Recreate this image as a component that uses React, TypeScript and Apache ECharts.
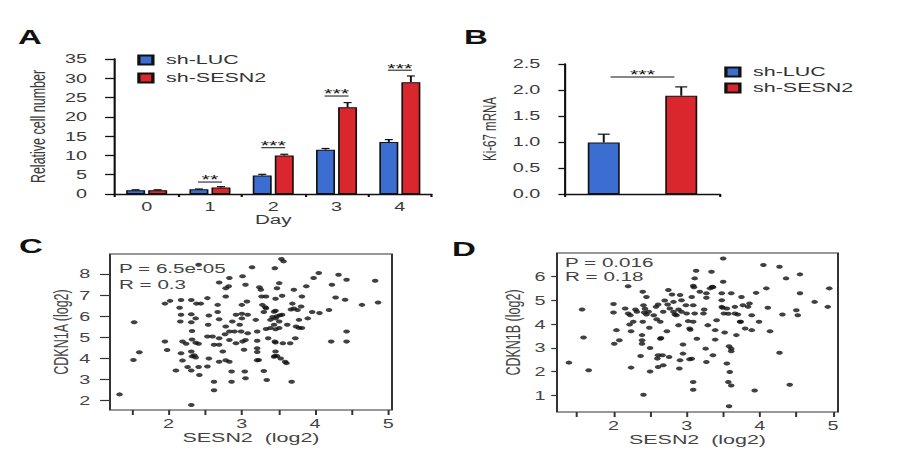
import React, { useEffect, useRef } from 'react';
import * as echarts from 'echarts';

// The reference figure is stretched horizontally; we draw in a narrower
// logical canvas and stretch it back with a CSS scaleX.
const S = 1.65;
const W = 906 / S;
const X = (px: number) => px / S;
const FONT = 'Liberation Sans, Arial, Helvetica, sans-serif';

// ---------- Panel A : relative cell number ----------
const days = ['0', '1', '2', '3', '4'];
const lucMean = [1.0, 1.2, 4.8, 11.5, 13.5];
const lucErr = [0.1, 0.1, 0.3, 0.3, 0.6];
const sesnMean = [1.0, 1.7, 10.0, 22.5, 29.0];
const sesnErr = [0.1, 0.2, 0.3, 1.2, 1.6];
const sigDaysA = [1, 2, 3, 4];
const sigLabelsA = ['**', '***', '***', '***'];
const sigLineA = [3.1, 12.0, 25.4, 32.1];

// ---------- Panel B : Ki-67 mRNA ----------
const groupsB = ['sh-LUC', 'sh-SESN2'];
const kiMean = [0.99, 1.89];
const kiErr = [0.16, 0.17];
const sigLineB = 2.25;
const sigLabelB = '***';

// ---------- Panel C : CDKN1A vs SESN2 ----------
const cdkn1aPoints: number[][] = [
  [1.33, 2.30], [1.52, 3.93], [1.53, 5.72], [1.60, 4.30], [1.95, 6.60], [2.02, 6.73], [1.95, 4.80], [1.98, 4.40],
  [2.10, 3.43], [2.17, 6.77], [2.15, 6.40], [2.17, 6.07], [2.16, 5.75], [2.19, 4.80], [2.17, 4.25], [2.19, 3.90],
  [2.31, 6.77], [2.38, 6.60], [2.44, 6.60], [2.31, 6.10], [2.37, 5.90], [2.31, 5.72], [2.32, 5.30], [2.32, 4.90],
  [2.37, 4.75], [2.41, 4.70], [2.31, 4.33], [2.32, 4.10], [2.37, 4.05], [2.26, 3.60], [2.31, 3.43], [2.41, 3.60],
  [2.42, 3.22], [2.31, 1.80], [2.41, 8.44], [2.53, 6.86], [2.55, 6.04], [2.54, 5.60], [2.53, 5.04], [2.55, 4.00],
  [2.53, 3.62], [2.60, 5.04], [2.62, 4.65], [2.67, 6.54], [2.67, 6.20], [2.69, 7.60], [2.69, 5.86], [2.69, 4.96],
  [2.69, 4.65], [2.69, 3.85], [2.62, 2.90], [2.62, 2.50], [2.74, 4.33], [2.78, 5.52], [2.78, 7.33], [2.82, 7.42],
  [2.83, 7.81], [2.78, 6.94], [2.77, 5.15], [2.83, 5.28], [2.83, 4.88], [2.83, 3.85], [2.86, 3.38], [2.86, 2.90],
  [2.87, 5.75], [2.90, 5.28], [2.92, 6.07], [2.92, 4.72], [2.97, 5.60], [2.99, 5.28], [3.00, 5.90], [3.00, 6.54],
  [3.00, 6.12], [3.01, 7.90], [3.05, 7.49], [3.03, 4.41], [3.01, 4.80], [3.05, 4.88], [3.04, 3.38], [3.05, 3.06],
  [3.07, 6.70], [3.08, 6.07], [3.08, 5.20], [3.14, 8.32], [3.19, 5.83], [3.21, 5.28], [3.21, 4.84], [3.21, 4.49],
  [3.23, 3.93], [3.24, 7.37], [3.26, 7.26], [3.27, 6.94], [3.28, 6.54], [3.30, 6.20], [3.30, 3.41], [3.33, 6.94],
  [3.33, 6.38], [3.34, 2.98], [3.33, 5.40], [3.36, 4.96], [3.39, 5.83], [3.39, 5.44], [3.44, 5.60], [3.45, 8.28],
  [3.46, 6.83], [3.46, 6.26], [3.46, 5.90], [3.45, 4.80], [3.46, 4.33], [3.45, 4.12], [3.48, 7.33], [3.51, 7.57],
  [3.51, 5.75], [3.51, 5.44], [3.54, 8.71], [3.57, 8.60], [3.55, 6.97], [3.55, 6.07], [3.56, 4.72], [3.59, 3.85],
  [3.61, 3.78], [3.53, 4.00], [3.62, 5.60], [3.66, 4.72], [3.68, 2.90], [3.69, 6.60], [3.71, 7.26], [3.73, 4.96],
  [3.74, 5.52], [3.76, 6.30], [3.78, 5.83], [3.81, 6.46], [3.82, 6.94], [3.82, 5.44], [3.88, 7.42], [3.90, 5.90],
  [3.98, 7.81], [3.96, 6.20], [4.05, 8.05], [4.06, 6.15], [4.19, 6.30], [4.22, 4.80], [4.23, 7.49], [4.28, 6.89],
  [4.32, 7.97], [4.41, 6.78], [4.43, 7.73], [4.43, 5.28], [4.43, 4.80], [4.64, 6.54], [4.82, 7.68], [4.86, 6.65],
  [2.24, 4.70], [2.35, 4.15], [2.78, 3.92], [3.32, 6.43], [3.42, 5.97], [3.48, 6.00], [3.46, 5.39], [3.46, 4.76],
  [3.48, 4.12], [3.44, 4.08], [3.21, 4.31], [3.21, 3.92], [3.71, 6.37], [3.67, 6.32], [3.78, 5.45], [3.52, 6.05],
  [3.44, 6.21],
];
const statsC = ['P = 6.5e-05', 'R = 0.3'];

// ---------- Panel D : CDKN1B vs SESN2 ----------
const cdkn1bPoints: number[][] = [
  [1.39, 2.38], [1.57, 4.62], [1.59, 3.44], [1.66, 2.06], [2.00, 4.85], [2.00, 4.49], [2.04, 3.75], [2.01, 3.18],
  [2.08, 3.32], [2.16, 4.66], [2.20, 5.60], [2.20, 4.45], [2.23, 4.38], [2.22, 3.99], [2.24, 3.70], [2.24, 2.17],
  [2.27, 4.10], [2.32, 4.52], [2.37, 2.66], [2.39, 3.54], [2.39, 3.32], [2.39, 3.18], [2.40, 5.37], [2.41, 4.80],
  [2.42, 4.49], [2.45, 4.41], [2.45, 5.15], [2.49, 3.85], [2.50, 3.00], [2.50, 2.01], [2.41, 1.03], [2.55, 4.38],
  [2.58, 4.73], [2.59, 4.21], [2.60, 2.55], [2.61, 2.69], [2.61, 2.20], [2.64, 3.39], [2.64, 4.10], [2.68, 4.52],
  [2.68, 2.27], [2.73, 3.70], [2.74, 4.83], [2.75, 5.44], [2.76, 2.62], [2.77, 4.66], [2.82, 4.94], [2.82, 4.52],
  [2.86, 4.38], [2.89, 3.96], [2.90, 2.13], [2.91, 2.48], [2.91, 5.23], [2.93, 5.01], [2.93, 4.52], [2.95, 3.14],
  [2.95, 2.76], [2.99, 4.80], [3.00, 4.45], [3.04, 2.52], [3.04, 3.82], [3.07, 5.15], [3.09, 5.62], [3.09, 4.80],
  [3.09, 4.10], [3.09, 1.56], [3.09, 1.24], [3.11, 5.93], [3.13, 6.25], [3.11, 4.45], [3.14, 3.39], [3.18, 5.37],
  [3.23, 4.45], [3.26, 2.97], [3.27, 2.41], [3.27, 5.11], [3.29, 3.96], [3.32, 5.51], [3.34, 6.21], [3.35, 5.58],
  [3.36, 2.69], [3.39, 3.75], [3.39, 3.35], [3.41, 4.17], [3.48, 5.30], [3.48, 5.01], [3.48, 4.73], [3.50, 6.77],
  [3.50, 5.79], [3.51, 4.45], [3.52, 3.65], [3.55, 4.66], [3.55, 2.34], [3.57, 1.56], [3.59, 1.99], [3.61, 2.97],
  [3.61, 2.86], [3.61, 5.30], [3.61, 1.42], [3.58, 0.54], [3.66, 4.73], [3.66, 4.45], [3.68, 3.54], [3.73, 4.10],
  [3.75, 5.15], [3.77, 4.80], [3.80, 3.82], [3.84, 4.73], [3.86, 4.87], [3.89, 4.38], [3.89, 3.75], [3.93, 1.21],
  [3.95, 5.32], [3.99, 4.10], [4.05, 6.49], [4.09, 5.51], [4.11, 4.69], [4.14, 3.70], [4.27, 6.42], [4.27, 2.80],
  [4.31, 4.41], [4.36, 5.93], [4.41, 1.45], [4.50, 4.59], [4.52, 4.38], [4.55, 6.10], [4.55, 5.30], [4.75, 4.94],
  [4.93, 4.73], [4.95, 5.51], [2.30, 4.62], [2.40, 4.10], [2.43, 4.65], [2.48, 4.52], [2.61, 4.83], [2.65, 3.42],
  [2.67, 2.69], [2.70, 5.00], [2.80, 5.25], [2.84, 4.41], [2.89, 4.62], [3.02, 4.13], [3.05, 3.77], [3.07, 2.54],
  [3.10, 5.56], [3.36, 5.56], [3.27, 5.30], [3.49, 4.69], [3.57, 4.44], [3.70, 4.41], [3.74, 4.10], [3.24, 4.62],
  [3.58, 3.07],
];
const statsD = ['P = 0.016', 'R = 0.18'];

const scatterXTicks = [1.5, 2, 2.5, 3, 3.5, 4, 4.5, 5];
const scatterXLabels = [2, 3, 4, 5];
const cYTicks = [2, 3, 4, 5, 6, 7, 8];
const dYTicks = [1, 2, 3, 4, 5, 6];

const BLUE = '#3c6dd0';
const RED = '#d9272d';
const INK = '#111';

function errRender(offset: number, capHalf: number) {
  return (params: any, api: any) => {
    const c = api.value(0);
    const m = api.value(1);
    const e = api.value(2);
    const p0 = api.coord([c, m]);
    const p1 = api.coord([c, m + e]);
    const x = p0[0] + offset;
    return {
      type: 'group',
      children: [
        { type: 'line', shape: { x1: x, y1: p0[1], x2: x, y2: p1[1] }, style: { stroke: INK, lineWidth: 1.2 } },
        { type: 'line', shape: { x1: x - capHalf, y1: p1[1], x2: x + capHalf, y2: p1[1] }, style: { stroke: INK, lineWidth: 1.2 } },
      ],
    };
  };
}

function sigRenderA(params: any, api: any) {
  const p = api.coord([api.value(0), api.value(1)]);
  const hw = X(12);
  return {
    type: 'group',
    children: [
      { type: 'line', shape: { x1: p[0] - hw, y1: p[1], x2: p[0] + hw, y2: p[1] }, style: { stroke: INK, lineWidth: 1 } },
      {
        type: 'text', x: p[0], y: p[1] - 2,
        style: { text: sigLabelsA[params.dataIndex], fill: INK, fontSize: 13, fontFamily: FONT, align: 'center', verticalAlign: 'middle' },
      },
    ],
  };
}

function sigRenderB(params: any, api: any) {
  const p0 = api.coord([0, api.value(1)]);
  const p1 = api.coord([1, api.value(1)]);
  const mid = (p0[0] + p1[0]) / 2;
  const hw = X(32);
  return {
    type: 'group',
    children: [
      { type: 'line', shape: { x1: mid - hw, y1: p0[1], x2: mid + hw, y2: p0[1] }, style: { stroke: INK, lineWidth: 1 } },
      {
        type: 'text', x: mid, y: p0[1] - 2,
        style: { text: sigLabelB, fill: INK, fontSize: 13, fontFamily: FONT, align: 'center', verticalAlign: 'middle' },
      },
    ],
  };
}

const axisText = { fontFamily: FONT, fontSize: 12, color: '#3a3a3a' };
const scatText = { fontFamily: FONT, fontSize: 12, color: '#444' };

const barWidthA = X(19);
const offA = (barWidthA * 1.16) / 2;

const option: any = {
  animation: false,
  backgroundColor: '#fff',
  textStyle: { fontFamily: FONT },
  grid: [
    { left: X(115), top: 59, width: X(316.5), height: 135, containLabel: false },
    { left: X(565), top: 64, width: X(155), height: 130, containLabel: false },
    { left: X(110), top: 254, width: X(282), height: 156, containLabel: false, show: true, borderColor: '#333', borderWidth: 1.2, backgroundColor: 'transparent' },
    { left: X(557), top: 253, width: X(281), height: 159, containLabel: false, show: true, borderColor: '#333', borderWidth: 1.2, backgroundColor: 'transparent' },
  ],
  legend: [
    {
      data: ['sh-LUC', 'sh-SESN2'], orient: 'vertical', left: X(129), top: 48,
      icon: 'rect', itemWidth: X(14), itemHeight: 9, itemGap: 4,
      textStyle: { fontFamily: FONT, fontSize: 13, color: '#333', lineHeight: 14, padding: [0, 0, 0, 3] },
    },
    {
      data: ['sh-LUC', 'sh-SESN2'], orient: 'vertical', left: X(716), top: 60,
      icon: 'rect', itemWidth: X(14), itemHeight: 9, itemGap: 2,
      textStyle: { fontFamily: FONT, fontSize: 13, color: '#333', lineHeight: 14, padding: [0, 0, 0, 3] },
    },
  ],
  xAxis: [
    {
      type: 'category', gridIndex: 0, data: days,
      axisLine: { lineStyle: { color: INK, width: 1.3 } },
      axisTick: { show: true, length: 3, lineStyle: { color: INK, width: 1.3 } },
      axisLabel: { ...axisText, margin: 7 },
      name: 'Day', nameLocation: 'middle', nameGap: 18,
      nameTextStyle: { ...axisText, fontSize: 12.5 },
    },
    {
      type: 'category', gridIndex: 1, data: groupsB,
      axisLine: { lineStyle: { color: INK, width: 1.3 } },
      axisTick: { show: true, length: 3, lineStyle: { color: INK, width: 1.3 } },
      axisLabel: { show: false },
    },
    {
      type: 'value', gridIndex: 2, min: 1.2, max: 5.05,
      axisLine: { show: false }, splitLine: { show: false },
      axisTick: { show: true, length: 5, customValues: scatterXTicks, lineStyle: { color: '#333', width: 1.2 } },
      axisLabel: { ...scatText, margin: 8, customValues: scatterXLabels },
      name: 'SESN2  (log2)', nameLocation: 'middle', nameGap: 21,
      nameTextStyle: { ...scatText, fontSize: 13 },
    },
    {
      type: 'value', gridIndex: 3, min: 1.227, max: 5.07,
      axisLine: { show: false }, splitLine: { show: false },
      axisTick: { show: true, length: 5, customValues: scatterXTicks, lineStyle: { color: '#333', width: 1.2 } },
      axisLabel: { ...scatText, margin: 8, customValues: scatterXLabels },
      name: 'SESN2  (log2)', nameLocation: 'middle', nameGap: 20,
      nameTextStyle: { ...scatText, fontSize: 13 },
    },
  ],
  yAxis: [
    {
      type: 'value', gridIndex: 0, min: 0, max: 35, interval: 5,
      axisLine: { show: true, lineStyle: { color: INK, width: 1.3 } },
      axisTick: { show: true, length: 6, lineStyle: { color: INK, width: 1.3 } },
      axisLabel: { ...axisText, margin: 17 },
      splitLine: { show: false },
      name: 'Relative cell number', nameLocation: 'middle', nameGap: 40,
      nameTextStyle: { ...axisText, fontSize: 12.5 },
    },
    {
      type: 'value', gridIndex: 1, min: 0, max: 2.5, interval: 0.5,
      axisLine: { show: true, lineStyle: { color: INK, width: 1.3 } },
      axisTick: { show: true, length: 4, lineStyle: { color: INK, width: 1.3 } },
      axisLabel: { ...axisText, margin: 15, formatter: (v: number) => v.toFixed(1) },
      splitLine: { show: false },
      name: 'Ki-67 mRNA', nameLocation: 'middle', nameGap: 40,
      nameTextStyle: { ...axisText, fontSize: 11.5 },
    },
    {
      type: 'value', gridIndex: 2, min: 1.56, max: 8.95,
      axisLine: { show: false }, splitLine: { show: false },
      axisTick: { show: true, length: 6, customValues: cYTicks, lineStyle: { color: '#333', width: 1.2 } },
      axisLabel: { ...scatText, margin: 12, customValues: cYTicks },
      name: 'CDKN1A (log2)', nameLocation: 'middle', nameGap: 23,
      nameTextStyle: { ...scatText, fontSize: 12.5 },
    },
    {
      type: 'value', gridIndex: 3, min: 0.3, max: 7.0,
      axisLine: { show: false }, splitLine: { show: false },
      axisTick: { show: true, length: 3.5, customValues: dYTicks, lineStyle: { color: '#333', width: 1.2 } },
      axisLabel: { ...scatText, margin: 7, customValues: dYTicks },
      name: 'CDKN1B (log2)', nameLocation: 'middle', nameGap: 20,
      nameTextStyle: { ...scatText, fontSize: 12.5 },
    },
  ],
  series: [
    {
      name: 'sh-LUC', type: 'bar', xAxisIndex: 0, yAxisIndex: 0, data: lucMean,
      barWidth: barWidthA, barGap: '16%',
      itemStyle: { color: BLUE, borderColor: INK, borderWidth: 1 },
    },
    {
      name: 'sh-SESN2', type: 'bar', xAxisIndex: 0, yAxisIndex: 0, data: sesnMean,
      barWidth: barWidthA, barGap: '16%',
      itemStyle: { color: RED, borderColor: INK, borderWidth: 1 },
    },
    {
      type: 'custom', xAxisIndex: 0, yAxisIndex: 0, z: 5,
      data: lucMean.map((m, i) => [i, m, lucErr[i]]),
      renderItem: errRender(-offA, X(4)),
    },
    {
      type: 'custom', xAxisIndex: 0, yAxisIndex: 0, z: 5,
      data: sesnMean.map((m, i) => [i, m, sesnErr[i]]),
      renderItem: errRender(offA, X(4)),
    },
    {
      type: 'custom', xAxisIndex: 0, yAxisIndex: 0, z: 5,
      data: sigDaysA.map((d, i) => [d, sigLineA[i]]),
      renderItem: sigRenderA,
    },
    {
      name: 'sh-LUC', type: 'bar', xAxisIndex: 1, yAxisIndex: 1, data: [kiMean[0], null],
      barWidth: X(32), barGap: '-100%',
      itemStyle: { color: BLUE, borderColor: INK, borderWidth: 1 },
    },
    {
      name: 'sh-SESN2', type: 'bar', xAxisIndex: 1, yAxisIndex: 1, data: [null, kiMean[1]],
      barWidth: X(32), barGap: '-100%',
      itemStyle: { color: RED, borderColor: INK, borderWidth: 1 },
    },
    {
      type: 'custom', xAxisIndex: 1, yAxisIndex: 1, z: 5,
      data: kiMean.map((m, i) => [i, m, kiErr[i]]),
      renderItem: errRender(0, X(6)),
    },
    {
      type: 'custom', xAxisIndex: 1, yAxisIndex: 1, z: 5,
      data: [[0, sigLineB]],
      renderItem: sigRenderB,
    },
    {
      type: 'scatter', xAxisIndex: 2, yAxisIndex: 2, data: cdkn1aPoints,
      symbol: 'circle', symbolSize: 4, itemStyle: { color: '#111' },
    },
    {
      type: 'scatter', xAxisIndex: 3, yAxisIndex: 3, data: cdkn1bPoints,
      symbol: 'circle', symbolSize: 4, itemStyle: { color: '#111' },
    },
  ],
  graphic: [
    { type: 'text', left: X(18), top: 27, style: { text: 'A', fontFamily: FONT, fontWeight: 'bold', fontSize: 20, fill: INK } },
    { type: 'text', left: X(464), top: 27, style: { text: 'B', fontFamily: FONT, fontWeight: 'bold', fontSize: 20, fill: INK } },
    { type: 'text', left: X(19), top: 236, style: { text: 'C', fontFamily: FONT, fontWeight: 'bold', fontSize: 20, fill: INK } },
    { type: 'text', left: X(452), top: 239, style: { text: 'D', fontFamily: FONT, fontWeight: 'bold', fontSize: 20, fill: INK } },
    { type: 'text', left: X(119), top: 262, style: { text: statsC[0], fontFamily: FONT, fontSize: 12.5, fill: '#444' } },
    { type: 'text', left: X(119), top: 278, style: { text: statsC[1], fontFamily: FONT, fontSize: 12.5, fill: '#444' } },
    { type: 'text', left: X(565), top: 256, style: { text: statsD[0], fontFamily: FONT, fontSize: 12.5, fill: '#444' } },
    { type: 'text', left: X(565), top: 270, style: { text: statsD[1], fontFamily: FONT, fontSize: 12.5, fill: '#444' } },
  ],
};

export default function App() {
  const ref = useRef<HTMLDivElement>(null);
  useEffect(() => {
    if (!ref.current) return;
    const chart = echarts.init(ref.current, null, { renderer: 'svg' });
    chart.setOption(option);
    return () => chart.dispose();
  }, []);
  return (
    <div style={{ position: 'fixed', left: 0, top: 0, width: 906, height: 449, overflow: 'hidden', background: '#fff' }}>
      <div
        ref={ref}
        style={{ width: W, height: 449, transform: `scaleX(${S})`, transformOrigin: '0 0' }}
      />
    </div>
  );
}
